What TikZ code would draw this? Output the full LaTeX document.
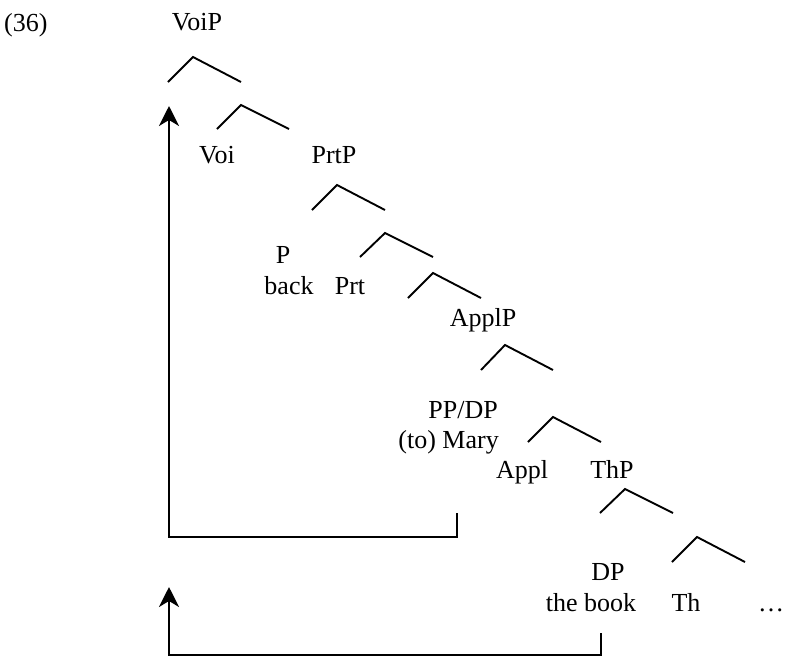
\documentclass[tikz,border=0pt]{standalone}
\usepackage{fontspec}
\setmainfont{Liberation Serif}
\usetikzlibrary{arrows.meta}
\tikzset{
  lbl/.style={anchor=base, inner sep=0pt, font=\fontsize{26}{30}\selectfont},
  branch/.style={line width=1.9pt, line cap=butt, line join=miter},
  movearrow/.style={line width=1.9pt, -{Stealth[length=20pt,width=20pt,inset=6pt]}}
}
\begin{document}
\begin{tikzpicture}[x=1pt,y=-1pt]
\useasboundingbox (0,0) rectangle (785,657);

% example number and labels (positioned by baseline)
\node[lbl, anchor=base west] (ex) at (4,31) {(36)};
\node[lbl] (voip) at (197,30) {VoiP};
\node[lbl] (voi) at (217,163) {Voi};
\node[lbl] (prtp) at (334,163) {PrtP};
\node[lbl] (p) at (283,263) {P};
\node[lbl] (back) at (289,294) {back};
\node[lbl] (prt) at (350,294) {Prt};
\node[lbl] (applp) at (483,326) {ApplP};
\node[lbl, anchor=base east] (ppdp) at (498,418) {PP/DP};
\node[lbl, anchor=base east] (mary) at (499,448) {(to) Mary};
\node[lbl] (appl) at (522,478) {Appl};
\node[lbl] (thp) at (612,478) {ThP};
\node[lbl] (dp) at (608,580) {DP};
\node[lbl] (book) at (591,611) {the book};
\node[lbl] (th) at (686,611) {Th};
\node[lbl] (dots) at (771,611) {\dots};

% branching points: left end, apex, right end
\coordinate (a1l) at (168,82);  \coordinate (a1) at (193,57);  \coordinate (a1r) at (241,82);
\coordinate (a2l) at (217,129); \coordinate (a2) at (241,105); \coordinate (a2r) at (289,129);
\coordinate (a3l) at (312,210); \coordinate (a3) at (337,185); \coordinate (a3r) at (385,210);
\coordinate (a4l) at (360,257); \coordinate (a4) at (385,233); \coordinate (a4r) at (433,257);
\coordinate (a5l) at (408,298); \coordinate (a5) at (433,273); \coordinate (a5r) at (481,298);
\coordinate (a6l) at (481,370); \coordinate (a6) at (505,345); \coordinate (a6r) at (553,370);
\coordinate (a7l) at (528,442); \coordinate (a7) at (553,417); \coordinate (a7r) at (601,442);
\coordinate (a8l) at (600,513); \coordinate (a8) at (625,489); \coordinate (a8r) at (673,513);
\coordinate (a9l) at (672,562); \coordinate (a9) at (697,537); \coordinate (a9r) at (745,562);

\foreach \i in {1,...,9}
  \draw[branch] (a\i l) -- (a\i) -- (a\i r);

% movement paths
\coordinate (m1s) at (457,513);
\coordinate (m1c) at (457,537);
\coordinate (m1d) at (169,537);
\coordinate (m1t) at (169,106);
\draw[movearrow] (m1s) -- (m1c) -- (m1d) -- (m1t);

\coordinate (m2s) at (601,633);
\coordinate (m2c) at (601,655);
\coordinate (m2d) at (169,655);
\coordinate (m2t) at (169,587);
\draw[movearrow] (m2s) -- (m2c) -- (m2d) -- (m2t);
\end{tikzpicture}
\end{document}
